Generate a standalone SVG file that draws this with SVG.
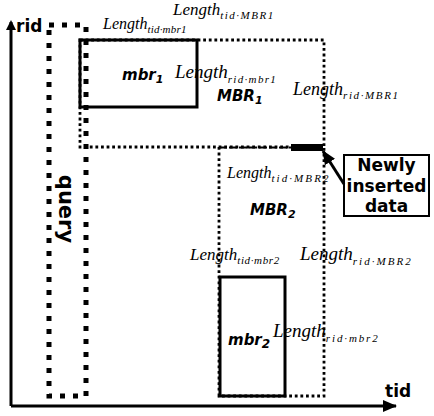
<svg xmlns="http://www.w3.org/2000/svg" width="434" height="416" viewBox="0 0 434 416">
<defs>
<style>
.len{font-family:"Liberation Serif","Times New Roman",serif;font-style:italic;fill:#000}
.sub{font-size:11px}
.bi{font-family:"DejaVu Sans",Verdana,sans-serif;font-weight:bold;font-style:italic;font-size:15px;fill:#000}
.bs{font-family:"DejaVu Sans",Verdana,sans-serif;font-weight:bold;fill:#000}
.dot{fill:none;stroke:#000;stroke-width:2.8;stroke-dasharray:2.8 2.8}
.solid{fill:none;stroke:#000;stroke-width:3}
.query{fill:none;stroke:#000;stroke-width:5;stroke-dasharray:5 8}
.axis{stroke:#000;stroke-width:3;fill:none}
</style>
<marker id="ah" markerWidth="10" markerHeight="10" refX="8" refY="5" orient="auto" markerUnits="userSpaceOnUse">
<path d="M0,0 L10,5 L0,10 Z" fill="#000"/>
</marker>
<marker id="ah2" markerWidth="14" markerHeight="12" refX="13" refY="6" orient="auto" markerUnits="userSpaceOnUse">
<path d="M0,0 L14,6 L0,12 Z" fill="#000"/>
</marker>
</defs>
<rect width="434" height="416" fill="#fff"/>

<g id="axes">
<line class="axis" x1="11" y1="406" x2="11" y2="22" marker-end="url(#ah)"/>
<line class="axis" x1="11" y1="406" x2="396" y2="406" marker-end="url(#ah2)"/>
<text class="bs" x="16" y="32" font-size="17">rid</text>
<text class="bs" x="385" y="397" font-size="17">tid</text>
</g>

<g id="MBR1">
<path class="dot" d="M80,40 H324 V147 H80 Z"/>
<text class="bi" x="217" y="101">MBR<tspan font-size="11" dy="3">1</tspan></text>
</g>

<g id="MBR2">
<path class="dot" d="M219,147 V396 H324 V147"/>
<text class="bi" x="250" y="215" font-size="16">MBR<tspan font-size="11" dy="3">2</tspan></text>
</g>

<g id="mbr1">
<rect class="solid" x="80" y="40" width="117" height="67"/>
<text class="bi" x="122" y="80">mbr<tspan font-size="11" dy="3">1</tspan></text>
</g>

<g id="mbr2">
<rect class="solid" x="220" y="277" width="65" height="119"/>
<text class="bi" x="228" y="345" font-size="17">mbr<tspan font-size="12" dy="3">2</tspan></text>
</g>

<g id="query">
<rect class="query" x="49" y="25" width="37" height="371"/>
<text class="bs" font-size="21" text-anchor="middle" transform="translate(59,209) rotate(90)">query</text>
</g>

<g id="newdata">
<line x1="219" y1="147.5" x2="292" y2="147.5" stroke="#000" stroke-width="2" stroke-dasharray="8 2"/>
<rect x="291" y="144" width="32" height="7" fill="#000"/>
</g>

<g id="callout">
<rect x="344" y="155" width="85" height="61" fill="#fff" stroke="#000" stroke-width="2"/>
<text class="bs" font-size="17" text-anchor="middle" x="386.5" y="171">Newly</text>
<text class="bs" font-size="17" text-anchor="middle" x="386.5" y="192">inserted</text>
<text class="bs" font-size="17" text-anchor="middle" x="386.5" y="212">data</text>
</g>

<g id="connectors">
<line x1="344" y1="184" x2="323" y2="151" stroke="#000" stroke-width="3" marker-end="url(#ah2)"/>
</g>

<g id="labels">
<text class="len" x="173" y="15" font-size="17">Length<tspan class="sub" dy="4" textLength="53">tid·MBR1</tspan></text>
<text class="len" x="103" y="29" font-size="16">Length<tspan class="sub" dy="4" textLength="39">tid·mbr1</tspan></text>
<text class="len" x="175" y="78" font-size="19">Length<tspan class="sub" dy="5" textLength="48">rid·mbr1</tspan></text>
<text class="len" x="293" y="95" font-size="18">Length<tspan class="sub" dy="4" textLength="55">rid·MBR1</tspan></text>
<text class="len" x="227" y="178" font-size="16">Length<tspan class="sub" dy="4" textLength="57">tid·MBR2</tspan></text>
<text class="len" x="190" y="260" font-size="17">Length<tspan class="sub" dy="4" textLength="42">tid·mbr2</tspan></text>
<text class="len" x="300" y="260" font-size="19">Length<tspan class="sub" dy="5" textLength="58">rid·MBR2</tspan></text>
<text class="len" x="273" y="337" font-size="19">Length<tspan class="sub" dy="5" textLength="52">rid·mbr2</tspan></text>
</g>
</svg>
